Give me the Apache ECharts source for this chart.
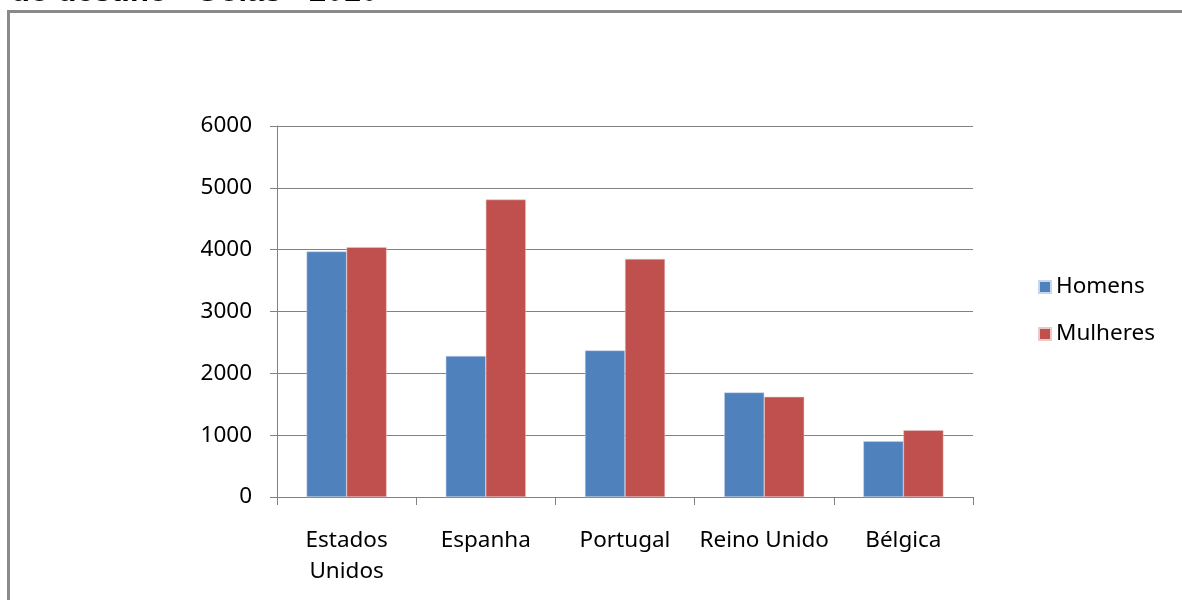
<!DOCTYPE html>
<html>
<head>
<meta charset="utf-8">
<script src="https://cdn.jsdelivr.net/npm/echarts@6/dist/echarts.min.js"></script>
<style>
  html, body { margin: 0; padding: 0; background: #ffffff; }
  #chart { width: 1182px; height: 600px; }
</style>
</head>
<body>
<div id="chart"></div>
<script>
// Country of destination
const categories = ['Estados\nUnidos', 'Espanha', 'Portugal', 'Reino Unido', 'Bélgica'];
// Series values
const homens = [3970, 2280, 2370, 1690, 900];
const mulheres = [4040, 4810, 3850, 1620, 1080];
const seriesNames = ['Homens', 'Mulheres'];
// Value axis ticks
const yTicks = [0, 1000, 2000, 3000, 4000, 5000, 6000];
const titleText = 'do destino - Goiás - 2010';

const FONT = 'Noto Sans';
const FONT_SIZE = 22.5;
const AXIS_GRAY = '#828282';

const chart = echarts.init(document.getElementById('chart'), null, { renderer: 'canvas' });

chart.setOption({
  animation: false,
  backgroundColor: '#ffffff',
  textStyle: { fontFamily: FONT },
  graphic: [
    {
      type: 'rect',
      shape: { x: 8.5, y: 11.5, width: 1300, height: 800 },
      style: { fill: 'none', stroke: '#8a8a8a', lineWidth: 3 },
      silent: true
    },
    {
      type: 'text',
      style: {
        x: 378, y: 8,
        text: titleText,
        align: 'right',
        verticalAlign: 'bottom',
        font: 'bold 31px "Liberation Sans", Arial, sans-serif',
        fill: '#000000'
      },
      silent: true
    }
  ],
  legend: {
    orient: 'vertical',
    left: 1033,
    top: 270,
    itemWidth: 12,
    itemHeight: 12,
    itemGap: 23,
    icon: 'rect',
    textStyle: { fontFamily: FONT, fontSize: FONT_SIZE, lineHeight: 24, color: '#000000' },
    data: seriesNames
  },
  grid: {
    left: 277,
    right: 209,
    top: 126,
    bottom: 103,
    containLabel: false
  },
  xAxis: {
    type: 'category',
    data: categories,
    boundaryGap: true,
    axisLine: { show: true, lineStyle: { color: AXIS_GRAY, width: 1 } },
    axisTick: { show: true, length: 8, alignWithLabel: false, lineStyle: { color: AXIS_GRAY } },
    axisLabel: {
      interval: 0,
      margin: 28,
      color: '#000000',
      fontFamily: FONT,
      fontSize: FONT_SIZE,
      lineHeight: 31
    }
  },
  yAxis: {
    type: 'value',
    min: yTicks[0],
    max: yTicks[yTicks.length - 1],
    interval: 1000,
    axisLine: { show: true, lineStyle: { color: AXIS_GRAY, width: 1 } },
    axisTick: { show: true, inside: false, length: 7, lineStyle: { color: AXIS_GRAY } },
    splitLine: { show: true, lineStyle: { color: AXIS_GRAY, width: 1 } },
    axisLabel: {
      margin: 25,
      color: '#000000',
      fontFamily: FONT,
      fontSize: FONT_SIZE,
      formatter: (v) => String(v)
    }
  },
  series: [
    {
      name: seriesNames[0],
      type: 'bar',
      data: homens,
      barGap: '0%',
      barCategoryGap: '42.5%',
      itemStyle: { color: '#4F81BD', borderColor: '#c8d6ea', borderWidth: 0.5 }
    },
    {
      name: seriesNames[1],
      type: 'bar',
      data: mulheres,
      barGap: '0%',
      barCategoryGap: '42.5%',
      itemStyle: { color: '#C0504D', borderColor: '#eac9c8', borderWidth: 0.5 }
    }
  ]
});
</script>
</body>
</html>
